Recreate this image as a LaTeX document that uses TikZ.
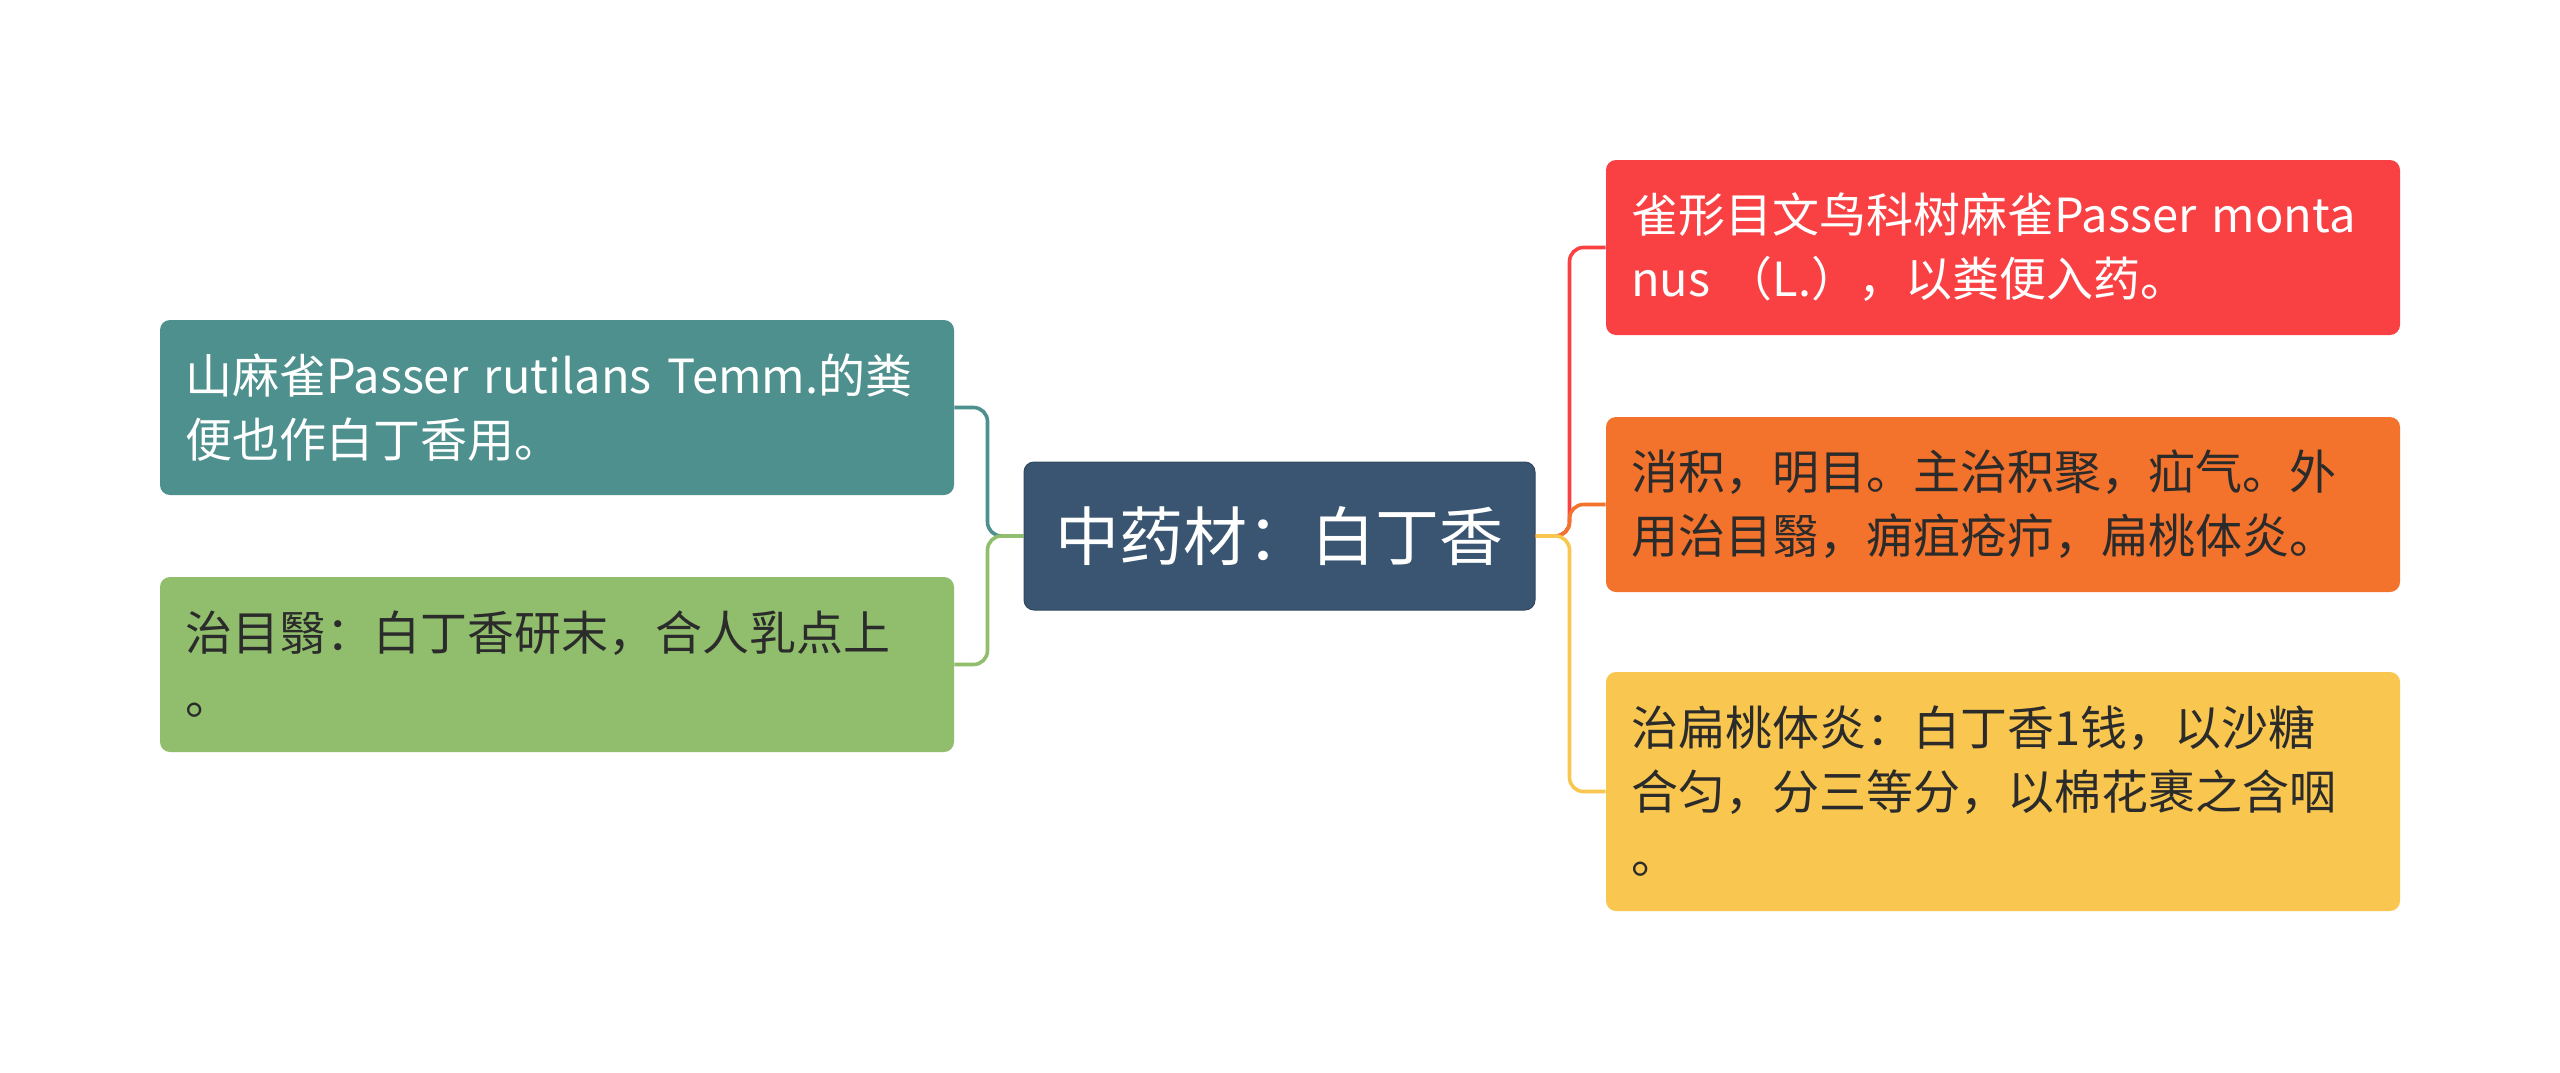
\documentclass[tikz,border=0pt]{standalone}
\usepackage{fontspec}
\newfontfamily\cjk{Noto Sans CJK SC}
\definecolor{cCenter}{HTML}{3A5571}
\definecolor{cTeal}{HTML}{4D908E}
\definecolor{cGreen}{HTML}{90BE6D}
\definecolor{cRed}{HTML}{F94144}
\definecolor{cOrange}{HTML}{F3722C}
\definecolor{cYellow}{HTML}{F9C74F}
\definecolor{cDark}{HTML}{2B2B2B}
\tikzset{
  leaf/.style={rounded corners=5pt, inner xsep=12.5pt, inner ysep=0pt,
    text width=372pt, align=left, minimum height=87.5pt,
    font={\cjk\fontsize{23.5}{32}\selectfont}},
  hub/.style={rounded corners=5pt, fill=cCenter, draw=cCenter!85!black, line width=0.5pt,
    text=white, minimum width=255.5pt, minimum height=74pt,
    font={\cjk\fontsize{32}{38}\selectfont}},
  link/.style={line width=1.8pt, rounded corners=7pt}
}
\begin{document}
\begin{tikzpicture}[x=0.5pt,y=-0.5pt]
\useasboundingbox[fill=white] (0,0) rectangle (2560,1072);
\node[hub] (center) at (1279.5,536) {中药材：白丁香};
\node[leaf, fill=cTeal, text=white] (lt) at (557,407.5)
  {山麻雀Passer rutilans Temm.的粪\\便也作白丁香用。};
\node[leaf, fill=cGreen, text=cDark] (lb) at (557,664.5)
  {治目翳：白丁香研末，合人乳点上\\。};
\node[leaf, fill=cRed, text=white] (r1) at (2003,247.5)
  {雀形目文鸟科树麻雀Passer monta\\nus （L.），以粪便入药。};
\node[leaf, fill=cOrange, text=cDark] (r2) at (2003,504.5)
  {消积，明目。主治积聚，疝气。外\\用治目翳，痈疽疮疖，扁桃体炎。};
\node[leaf, fill=cYellow, text=cDark, minimum height=119.5pt] (r3) at (2003,791.5)
  {治扁桃体炎：白丁香1钱，以沙糖\\合匀，分三等分，以棉花裹之含咽\\。};
\draw[link, cTeal] (center.west) -- ++(-36,0) |- (lt.east);
\draw[link, cGreen] (center.west) -- ++(-36,0) |- (lb.east);
\draw[link, cRed] (center.east) -- ++(34,0) |- (r1.west);
\draw[link, cOrange] (center.east) -- ++(34,0) |- (r2.west);
\draw[link, cYellow] (center.east) -- ++(34,0) |- (r3.west);
\end{tikzpicture}
\end{document}
